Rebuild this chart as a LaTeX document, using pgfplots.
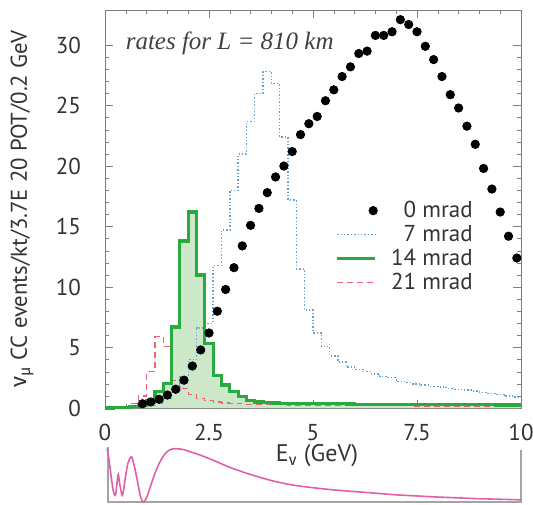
\documentclass[border=0pt]{standalone}
\usepackage{fontspec}
\setmainfont{PT Sans}
\newfontfamily\greek{Fira Sans}
\newfontfamily\timesit{Liberation Serif}
\usepackage{pgfplots}
\pgfplotsset{compat=1.18}

\definecolor{hblue}{RGB}{105,160,210}
\definecolor{hgreen}{RGB}{40,170,65}
\definecolor{hgfill}{RGB}{205,232,200}
\definecolor{hred}{RGB}{235,100,115}
\definecolor{hpink}{RGB}{225,95,170}
\definecolor{frame}{RGB}{125,125,125}

\begin{document}
\begin{tikzpicture}
\path[use as bounding box] (-52.5pt,-48pt) rectangle (214pt,204pt);

% main panel: 0.2 GeV bins, left edges
\begin{axis}[
  at={(0pt,0pt)}, anchor=south west,
  scale only axis, width=208pt, height=199pt,
  xmin=0, xmax=10, ymin=0, ymax=32.9,
  xtick={0,2.5,5,7.5,10}, ytick={0,5,10,15,20,25,30},
  minor x tick num=4, minor y tick num=4,
  tick align=inside, major tick length=4pt, minor tick length=2pt,
  axis line style={frame}, tick style={frame},
  every tick label/.append style={font=\fontsize{11.5}{13}\selectfont, text=black!80},
  /pgf/number format/assume math mode=true,
  xticklabel style={yshift=-4.5pt},
  yticklabel style={xshift=-8.5pt},
  xlabel={E\textsubscript{\greek ν} (GeV)},
  ylabel={{\greek ν}\textsubscript{\greek μ} CC events/kt/3.7E 20 POT/0.2 GeV},
  xlabel style={at={(axis description cs:0.5,0)}, anchor=center, yshift=-24pt, xshift=2pt, font=\fontsize{12}{14}\selectfont, text=black!80},
  ylabel style={at={(axis description cs:-0.1995,0.5)}, anchor=center, font=\fontsize{11.4}{13}\selectfont, text=black!80},
  legend cell align=right,
  legend style={draw=none, fill=none, at={(rel axis cs:0.904,0.537)}, anchor=north east,
    font=\fontsize{11.5}{13}\selectfont, text=black!80, row sep=0pt,
    nodes={inner sep=1pt, text height=8.5pt, text depth=1.5pt}},
  clip=false,
]
\addlegendimage{legend image code/.code={\path[draw=none,fill=none] (0pt,0pt) -- (26pt,0pt); \fill[black] (18pt,0pt) circle (2.1pt);}}
\addlegendentry{0 mrad}
\addlegendimage{legend image code/.code={\path[draw=none,fill=none] (0pt,0pt) -- (26pt,0pt); \draw[hblue, densely dotted, line width=0.7pt] (0pt,0pt) -- (19pt,0pt);}}
\addlegendentry{7 mrad}
\addlegendimage{legend image code/.code={\path[draw=none,fill=none] (0pt,0pt) -- (26pt,0pt); \draw[hgreen, line width=1.6pt] (0pt,0pt) -- (19pt,0pt);}}
\addlegendentry{14 mrad}
\addlegendimage{legend image code/.code={\path[draw=none,fill=none] (0pt,0pt) -- (26pt,0pt); \draw[hred, densely dashed, line width=0.6pt] (0pt,0pt) -- (19pt,0pt);}}
\addlegendentry{21 mrad}

% 14 mrad fill
\addplot[const plot, fill=hgfill, draw=none, forget plot] coordinates {
(0,0) (0.2,0.02) (0.4,0.05) (0.6,0.1) (0.8,0.25) (1.0,0.6) (1.2,1.35) (1.4,2.0)
(1.6,6.7) (1.8,13.8) (2.0,16.2) (2.2,11.0) (2.4,5.3) (2.6,2.7) (2.8,1.9) (3.0,1.35)
(3.2,0.95) (3.4,0.65) (3.6,0.5) (3.8,0.45) (4.0,0.42) (4.2,0.4) (4.4,0.4) (4.6,0.38)
(4.8,0.37) (5.0,0.36) (5.2,0.35) (5.4,0.34) (5.6,0.34) (5.8,0.33) (6.0,0.32) (6.2,0.32)
(6.4,0.31) (6.6,0.3) (6.8,0.3) (7.0,0.3) (7.2,0.29) (7.4,0.29) (7.6,0.28) (7.8,0.28)
(8.0,0.28) (8.2,0.27) (8.4,0.27) (8.6,0.27) (8.8,0.26) (9.0,0.26) (9.2,0.26) (9.4,0.25)
(9.6,0.25) (9.8,0.25) (10,0.25)} \closedcycle;

% 7 mrad
\addplot[const plot, hblue, densely dotted, line width=0.7pt, forget plot] coordinates {
(0,0) (0.2,0.01) (0.4,0.03) (0.6,0.06) (0.8,0.1) (1.0,0.2) (1.2,0.4) (1.4,0.8)
(1.6,1.5) (1.8,2.6) (2.0,4.0) (2.2,6.6) (2.4,7.0) (2.6,11.8) (2.8,14.7) (3.0,18.0)
(3.2,21.0) (3.4,23.7) (3.6,26.0) (3.8,27.8) (4.0,26.8) (4.2,22.4) (4.4,17.2) (4.6,11.5)
(4.8,8.1) (5.0,6.2) (5.2,5.1) (5.4,4.3) (5.6,3.8) (5.8,3.4) (6.0,3.2) (6.2,3.0)
(6.4,2.8) (6.6,2.6) (6.8,2.5) (7.0,2.2) (7.2,2.1) (7.4,2.0) (7.6,1.9) (7.8,1.8)
(8.0,1.75) (8.2,1.6) (8.4,1.55) (8.6,1.5) (8.8,1.4) (9.0,1.3) (9.2,1.2) (9.4,1.1)
(9.6,1.0) (9.8,0.9) (10,0.9)};

% 21 mrad
\addplot[const plot, hred, densely dashed, line width=0.6pt, forget plot] coordinates {
(0,0) (0.2,0.02) (0.4,0.1) (0.6,0.35) (0.8,1.0) (1.0,3.0) (1.2,5.9) (1.4,5.1)
(1.6,2.3) (1.8,1.6) (2.0,1.1) (2.2,0.8) (2.4,0.6) (2.6,0.5) (2.8,0.42) (3.0,0.38)
(3.2,0.35) (3.4,0.32) (3.6,0.3) (3.8,0.28) (4.0,0.27) (4.2,0.26) (4.4,0.25) (4.6,0.24)
(4.8,0.23) (5.0,0.22) (5.2,0.22) (5.4,0.21) (5.6,0.21) (5.8,0.2) (6.0,0.2) (6.2,0.2)
(6.4,0.19) (6.6,0.19) (6.8,0.18) (7.0,0.18) (7.2,0.18) (7.4,0.17) (7.6,0.17) (7.8,0.17)
(8.0,0.16) (8.2,0.16) (8.4,0.16) (8.6,0.16) (8.8,0.15) (9.0,0.15) (9.2,0.15) (9.4,0.15)
(9.6,0.15) (9.8,0.15) (10,0.15)};

% 14 mrad outline
\addplot[const plot, hgreen, line width=1.6pt, forget plot] coordinates {
(0,0) (0.2,0.02) (0.4,0.05) (0.6,0.1) (0.8,0.25) (1.0,0.6) (1.2,1.35) (1.4,2.0)
(1.6,6.7) (1.8,13.8) (2.0,16.2) (2.2,11.0) (2.4,5.3) (2.6,2.7) (2.8,1.9) (3.0,1.35)
(3.2,0.95) (3.4,0.65) (3.6,0.5) (3.8,0.45) (4.0,0.42) (4.2,0.4) (4.4,0.4) (4.6,0.38)
(4.8,0.37) (5.0,0.36) (5.2,0.35) (5.4,0.34) (5.6,0.34) (5.8,0.33) (6.0,0.32) (6.2,0.32)
(6.4,0.31) (6.6,0.3) (6.8,0.3) (7.0,0.3) (7.2,0.29) (7.4,0.29) (7.6,0.28) (7.8,0.28)
(8.0,0.28) (8.2,0.27) (8.4,0.27) (8.6,0.27) (8.8,0.26) (9.0,0.26) (9.2,0.26) (9.4,0.25)
(9.6,0.25) (9.8,0.25) (10,0.25)};

% 0 mrad, bin centres
\addplot[only marks, mark=*, mark size=2.1pt, black, forget plot] coordinates {
(0.9,0.35) (1.1,0.5) (1.3,0.72) (1.5,1.07) (1.7,1.55) (1.9,2.3) (2.1,3.47) (2.3,4.8)
(2.5,6.2) (2.7,8.0) (2.9,9.8) (3.1,11.6) (3.3,13.4) (3.5,15.1) (3.7,16.5) (3.9,17.8)
(4.1,19.1) (4.3,20.0) (4.5,21.2) (4.7,22.6) (4.9,23.5) (5.1,24.1) (5.3,25.4) (5.5,26.3)
(5.7,27.4) (5.9,28.2) (6.1,29.3) (6.3,29.5) (6.5,30.8) (6.7,30.8) (6.9,31.1) (7.1,32.1)
(7.3,31.7) (7.5,31.1) (7.7,29.9) (7.9,28.8) (8.1,27.4) (8.3,25.9) (8.5,24.8) (8.7,23.3)
(8.9,21.8) (9.1,19.8) (9.3,18.1) (9.5,16.2) (9.7,14.2) (9.9,12.4)};

\node[anchor=base west, font=\timesit\itshape\fontsize{12.5}{14}\selectfont, text=black!75]
  at (axis cs:0.33,29.6) {rates for \textit{L} = 810 km};
\end{axis}

% lower panel: oscillation probability
\begin{axis}[
  at={(0pt,-47pt)}, anchor=south west,
  scale only axis, width=208pt, height=27.5pt,
  xmin=0, xmax=10, ymin=0, ymax=1,
  hide axis, clip=false,
]
\draw[frame!70, line width=0.6pt] (rel axis cs:0.007,1) -- (rel axis cs:0.007,0) -- (rel axis cs:1,0) -- (rel axis cs:1,0.95);
\addplot[hpink, line width=0.8pt, smooth] coordinates {
(0.05,0.97) (0.1,0.75) (0.15,0.45) (0.2,0.2) (0.25,0.12) (0.29,0.35) (0.32,0.5) (0.36,0.3)
(0.42,0.12) (0.48,0.4) (0.55,0.7) (0.64,0.82) (0.72,0.6) (0.8,0.3) (0.86,0.08) (0.92,0.0)
(1.0,0.08) (1.1,0.3) (1.2,0.52) (1.3,0.7) (1.4,0.83) (1.5,0.92) (1.6,0.96) (1.72,0.97)
(1.9,0.95) (2.1,0.9) (2.3,0.85) (2.6,0.76) (3.0,0.63) (3.5,0.5) (4.0,0.39) (4.5,0.31)
(5.0,0.26) (5.5,0.22) (6.0,0.19) (6.5,0.16) (7.0,0.13) (7.5,0.11) (8.0,0.09) (8.5,0.075)
(9.0,0.06) (9.5,0.05) (10,0.04)};
\end{axis}
\end{tikzpicture}
\end{document}
